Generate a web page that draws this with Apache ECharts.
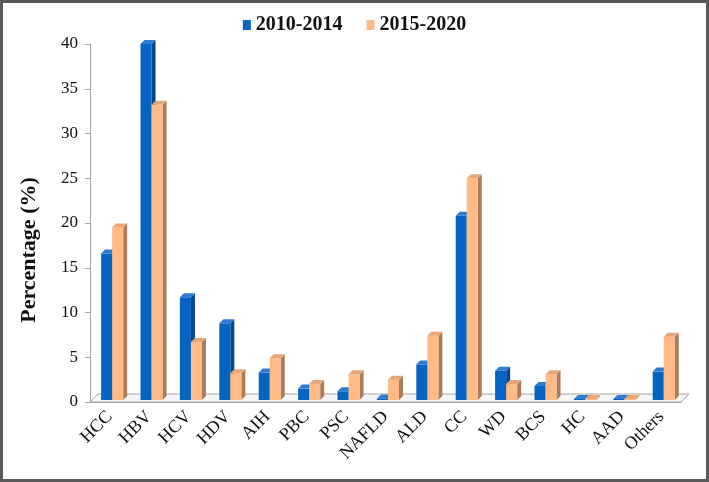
<!DOCTYPE html>
<html><head><meta charset="utf-8">
<script src="https://cdn.jsdelivr.net/npm/echarts@6/dist/echarts.min.js"></script>
<style>html,body{margin:0;padding:0;background:#fff}#c{width:709px;height:482px}</style>
</head><body><div id="c"></div>
<script>
var categories = ['HCC','HBV','HCV','HDV','AIH','PBC','PSC','NAFLD','ALD','CC','WD','BCS','HC','AAD','Others'];
var seriesNames = ['2010-2014','2015-2020'];
var values2010 = [16.6, 40.0, 11.7, 8.8, 3.3, 1.5, 1.2, 0.4, 4.2, 20.8, 3.5, 1.8, 0.2, 0.2, 3.4];
var values2015 = [19.5, 33.2, 6.7, 3.2, 4.9, 2.0, 3.1, 2.5, 7.4, 25.0, 2.0, 3.1, 0.2, 0.2, 7.3];
var yTicks = [0, 5, 10, 15, 20, 25, 30, 35, 40];
var yTitle = 'Percentage (%)';

var FONT = '"Liberation Serif","Times New Roman",serif';
var DX = 4, DY = 4;

function barRenderer(slot, front, side, top) {
  return function (params, api) {
    var idx = api.value(0), v = api.value(1);
    var p = api.coord([idx, v]);
    var p0 = api.coord([idx, 0]);
    var band = api.size([1, 0])[0];
    var w = band * 0.28;
    var x0 = p[0] - band * 0.218 + slot * w;
    var yBot = p0[1] - 2;
    var yTop = Math.min(p[1], yBot - 1);
    return {
      type: 'group',
      children: [
        {type: 'polygon', shape: {points: [[x0 + w, yTop], [x0 + w + DX, yTop - DY], [x0 + w + DX, yBot - DY], [x0 + w, yBot]]}, style: {fill: side}},
        {type: 'rect', shape: {x: x0, y: yTop, width: w, height: yBot - yTop}, style: {fill: front}},
        {type: 'polygon', shape: {points: [[x0, yTop], [x0 + DX, yTop - DY], [x0 + w + DX, yTop - DY], [x0 + w, yTop]]}, style: {fill: top}}
      ]
    };
  };
}

function floorRenderer(params, api) {
  var cs = params.coordSys;
  var yF = cs.y + cs.height;
  var xL = cs.x, xR = cs.x + cs.width;
  var d = 8;
  return {
    type: 'polygon',
    silent: true,
    shape: {points: [[xL, yF], [xL + d, yF - d], [xR + d, yF - d], [xR, yF]]},
    style: {fill: '#f6f6f6', stroke: '#a6a6a6', lineWidth: 1}
  };
}

var chart = echarts.init(document.getElementById('c'), null, {renderer: 'canvas'});
chart.setOption({
  animation: false,
  backgroundColor: '#fff',
  graphic: [{
    type: 'rect', silent: true, z: 100,
    shape: {x: 1.5, y: 1.5, width: 706, height: 479},
    style: {fill: 'none', stroke: '#5a5a5a', lineWidth: 3}
  }, {
    type: 'text', silent: true,
    x: 29, y: 250, rotation: Math.PI / 2,
    style: {text: yTitle, font: 'bold 22px ' + FONT, fill: '#111', align: 'center', verticalAlign: 'middle'}
  }],
  legend: {
    data: seriesNames,
    top: 10, left: 'center',
    icon: 'rect', itemWidth: 8, itemHeight: 10, itemGap: 24,
    textStyle: {fontFamily: FONT, fontWeight: 'bold', fontSize: 20, color: '#111'}
  },
  grid: {left: 90, right: 28, top: 44, bottom: 80, containLabel: false},
  xAxis: {
    type: 'category', data: categories,
    axisLine: {lineStyle: {color: '#a6a6a6'}},
    axisTick: {length: 5, lineStyle: {color: '#a6a6a6'}},
    axisLabel: {rotate: 45, fontFamily: FONT, fontSize: 18, color: '#111', margin: 12, interval: 0}
  },
  yAxis: {
    type: 'value', min: 0, max: 40, interval: 5,
    axisLine: {show: true, lineStyle: {color: '#a6a6a6'}},
    axisTick: {show: true, length: 5, lineStyle: {color: '#a6a6a6'}},
    splitLine: {show: false},
    axisLabel: {fontFamily: FONT, fontSize: 17, color: '#111', margin: 12,
      formatter: function (v) { return yTicks.indexOf(v) >= 0 ? String(v) : ''; }}
  },
  series: [
    {type: 'custom', name: 'floor', renderItem: floorRenderer, data: [[0, 0]], encode: {x: 0, y: 1}, z: 1, silent: true, legendHoverLink: false},
    {type: 'custom', name: seriesNames[0], itemStyle: {color: '#0563C1'},
      renderItem: barRenderer(0, '#0563C1', '#03488E', '#2F7BCF'),
      encode: {x: 0, y: 1}, z: 2,
      data: values2010.map(function (v, i) { return [i, v]; })},
    {type: 'custom', name: seriesNames[1], itemStyle: {color: '#FFBA86'},
      renderItem: barRenderer(1, '#FFBA86', '#A97D5C', '#E9A676'),
      encode: {x: 0, y: 1}, z: 3,
      data: values2015.map(function (v, i) { return [i, v]; })}
  ]
});
</script></body></html>
